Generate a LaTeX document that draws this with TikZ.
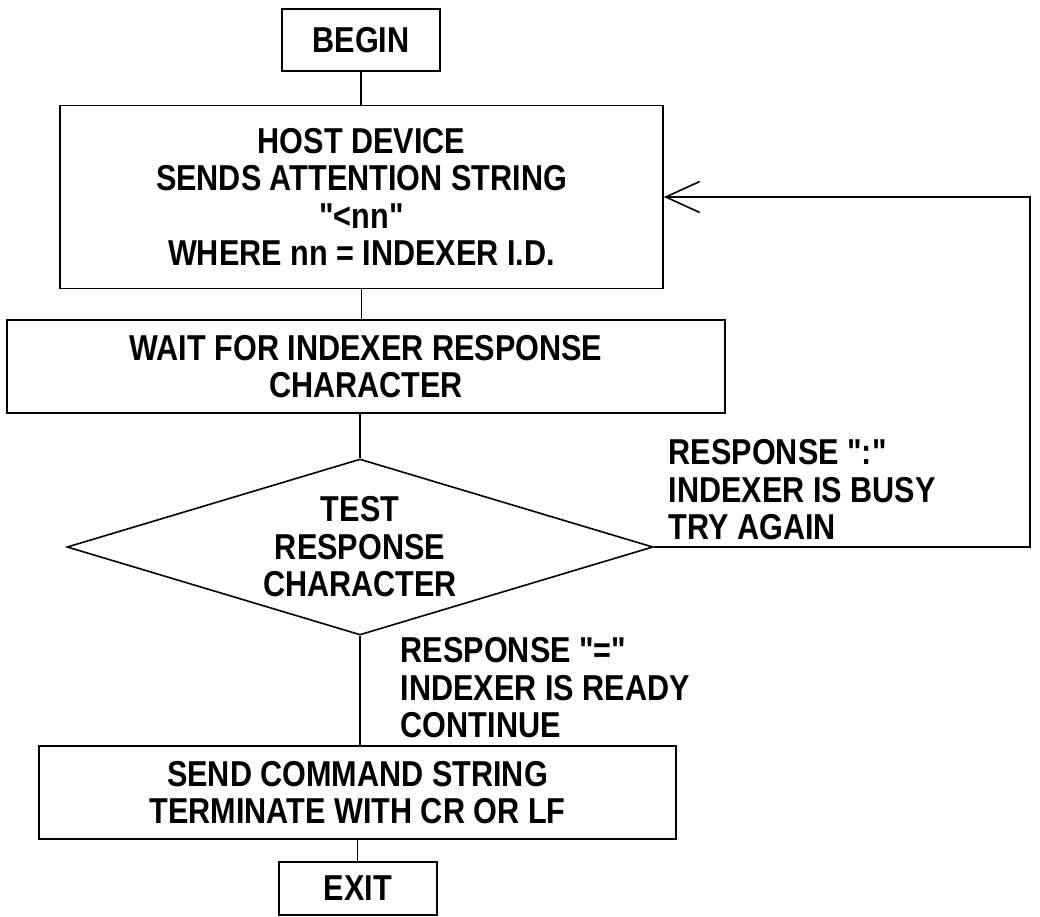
\documentclass[tikz,border=0pt]{standalone}
\usepackage{fontspec}
\newfontfamily\condfont{Liberation Sans}[FakeStretch=0.85]
\usetikzlibrary{shapes.geometric,arrows.meta}
\newcommand\flowfont{\condfont\fontsize{36}{37.5}\selectfont\bfseries}
\begin{document}
\begin{tikzpicture}[x=1pt,y=-1pt, line width=1.6pt,
  box/.style={draw, rectangle, inner sep=0pt, align=center, font=\flowfont},
  lbl/.style={inner sep=0pt, align=left, anchor=north west, font=\flowfont}]
\useasboundingbox (0,0) rectangle (1040,917);
\node[box, minimum width=158pt, minimum height=62pt] (begin) at (361,40) {BEGIN};
\node[box, minimum width=603pt, minimum height=183pt] (host) at (361.5,197) {HOST DEVICE\\SENDS ATTENTION STRING\\"<nn"\\WHERE nn = INDEXER I.D.};
\node[box, minimum width=718pt, minimum height=93pt] (wait) at (366,366.5) {WAIT FOR INDEXER RESPONSE\\CHARACTER};
\node[draw, diamond, aspect=3.33, minimum width=586pt, minimum height=176pt, inner sep=0pt, align=center, font=\flowfont] (test) at (360,547) {TEST\\RESPONSE\\CHARACTER};
\node[box, minimum width=637pt, minimum height=93pt] (send) at (357.5,792.5) {SEND COMMAND STRING\\TERMINATE WITH CR OR LF};
\node[box, minimum width=158pt, minimum height=53pt] (exit) at (358,888.5) {EXIT};
\coordinate (loop) at (1030,557);
\node[lbl] (busy) at (668,439) {RESPONSE ":"\\INDEXER IS BUSY\\TRY AGAIN};
\node[lbl] (ready) at (400,637) {RESPONSE "="\\INDEXER IS READY\\CONTINUE};
\draw (begin.south) -- (begin.south |- host.north);
\draw (host.south) -- (host.south |- wait.north);
\draw (test.north |- wait.south) -- (test.north);
\draw (test.south) -- (test.south |- send.north);
\draw (send.south) -- (send.south |- exit.north);
\draw[-{Straight Barb[length=34pt,width=31pt]}] (test.east) -- (test.east -| loop) |- (host.east);
\end{tikzpicture}
\end{document}
